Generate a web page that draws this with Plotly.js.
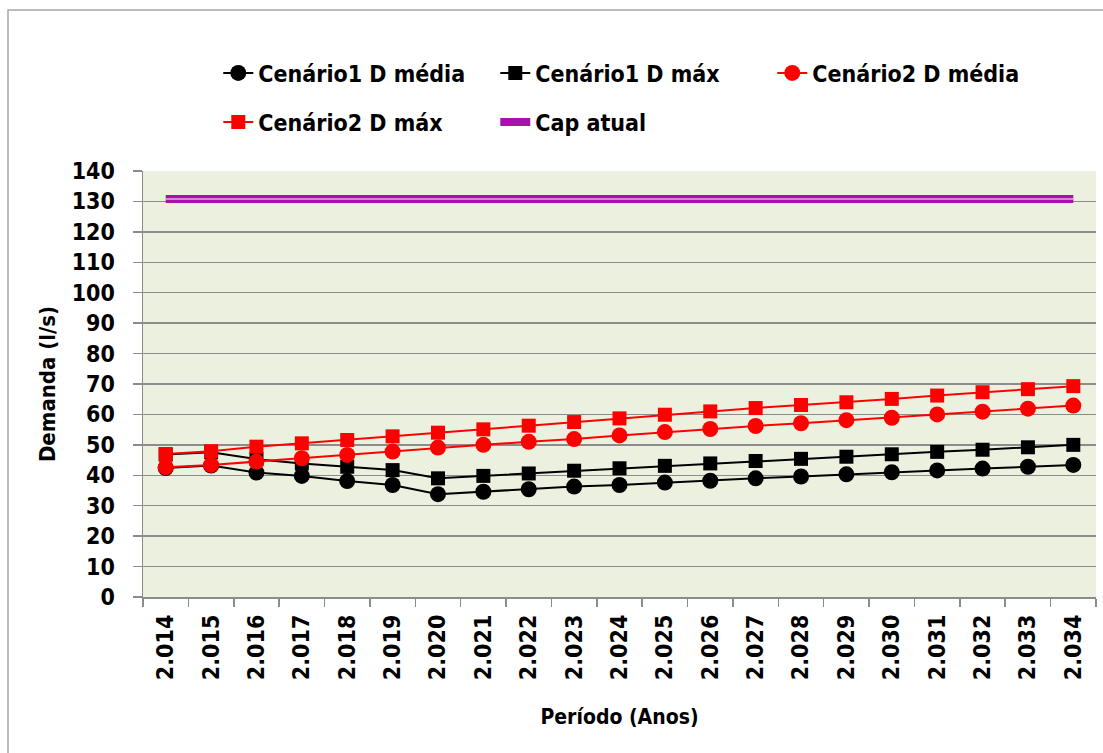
<!DOCTYPE html>
<html>
<head>
<meta charset="utf-8">
<script src="https://cdn.plot.ly/plotly-3.0.1.min.js"></script>
<style>html,body{margin:0;padding:0;background:#fff;}#chart{width:1103px;height:753px;}</style>
</head>
<body>
<div id="chart"></div>
<script>
const years = ['2.014','2.015','2.016','2.017','2.018','2.019','2.020','2.021','2.022','2.023','2.024','2.025','2.026','2.027','2.028','2.029','2.030','2.031','2.032','2.033','2.034'];
const c1Media = [42.4,43.2,40.9,39.8,38.1,36.8,33.8,34.6,35.4,36.3,36.8,37.6,38.2,39.0,39.6,40.3,41.0,41.6,42.2,42.8,43.4];
const c1Max   = [46.8,47.6,45.3,43.9,42.8,41.7,39.0,39.8,40.6,41.5,42.3,43.1,43.9,44.7,45.4,46.1,46.9,47.7,48.4,49.2,50.0];
const c2Media = [42.6,43.4,44.5,45.6,46.7,47.8,49.1,50.0,51.0,51.9,53.1,54.2,55.2,56.2,57.1,58.1,58.9,60.0,60.9,61.9,62.9];
const c2Max   = [47.0,47.9,49.4,50.5,51.6,52.8,54.0,55.1,56.3,57.5,58.7,59.9,61.0,62.1,63.1,64.0,65.1,66.2,67.3,68.3,69.3];
const capAtual = [130.8,130.8,130.8,130.8,130.8,130.8,130.8,130.8,130.8,130.8,130.8,130.8,130.8,130.8,130.8,130.8,130.8,130.8,130.8,130.8,130.8];

const FONT = 'DejaVu Sans Condensed, Liberation Sans Narrow, Arial Narrow, sans-serif';

const traces = [
  {x: years, y: c1Media, name: 'Cenário1 D média', type: 'scatter', mode: 'lines+markers',
   line: {color: '#000000', width: 2}, marker: {symbol: 'circle', size: 16, color: '#000000'}, legend: 'legend'},
  {x: years, y: c1Max, name: 'Cenário1 D máx', type: 'scatter', mode: 'lines+markers',
   line: {color: '#000000', width: 2}, marker: {symbol: 'square', size: 14, color: '#000000'}, legend: 'legend'},
  {x: years, y: c2Media, name: 'Cenário2 D média', type: 'scatter', mode: 'lines+markers',
   line: {color: '#FF0000', width: 2}, marker: {symbol: 'circle', size: 16, color: '#FF0000'}, legend: 'legend'},
  {x: years, y: c2Max, name: 'Cenário2 D máx', type: 'scatter', mode: 'lines+markers',
   line: {color: '#FF0000', width: 2}, marker: {symbol: 'square', size: 14, color: '#FF0000'}, legend: 'legend2'},
  {x: years, y: capAtual, name: 'Cap atual', type: 'scatter', mode: 'lines',
   line: {color: '#A612AA', width: 8}, legend: 'legend2'},
  {x: years, y: capAtual, name: 'Cap atual', type: 'scatter', mode: 'lines',
   line: {color: '#FFFFFF', width: 1}, showlegend: false, hoverinfo: 'skip'}
];

const legendFont = {family: FONT, size: 23, color: '#000000', weight: 'bold'};
const legendCommon = {
  orientation: 'h', xanchor: 'left', yanchor: 'middle',
  bgcolor: 'rgba(0,0,0,0)', borderwidth: 0, entrywidth: 232, entrywidthmode: 'pixels'
};

const layout = {
  width: 1103, height: 753,
  margin: {l: 143, r: 7, t: 171, b: 156, pad: 0},
  paper_bgcolor: '#FFFFFF',
  plot_bgcolor: '#EBF1DE',
  font: {family: FONT, color: '#000000'},
  showlegend: true,
  legend: Object.assign({}, legendCommon, {font: Object.assign({}, legendFont), x: 0.079, y: 1 + (597 - 73 - 426) / 426}),
  legend2: Object.assign({}, legendCommon, {font: Object.assign({}, legendFont), x: 0.079, y: 1 + (597 - 122 - 426) / 426}),
  xaxis: {
    type: 'category',
    range: [-0.5, 20.5],
    tickangle: -90,
    tickson: 'boundaries',
    ticks: 'outside', ticklen: 8, tickcolor: '#8C8C8C', tickwidth: 1.5,
    ticklabelstandoff: 7,
    showgrid: false, zeroline: false,
    showline: true, linecolor: '#8C8C8C', linewidth: 1.5,
    tickfont: {family: FONT, size: 23, color: '#000000', weight: 'bold'},
    title: {text: 'Período (Anos)', font: {family: FONT, size: 21, color: '#000000', weight: 'bold'}, standoff: 30},
    fixedrange: true
  },
  yaxis: {
    range: [0, 140], dtick: 10, tick0: 0,
    ticks: 'outside', ticklen: 9, tickcolor: '#8C8C8C', tickwidth: 1.5,
    ticklabelstandoff: 13,
    showgrid: true, gridcolor: '#8C8C8C', gridwidth: 1.5,
    zeroline: false,
    showline: true, linecolor: '#8C8C8C', linewidth: 1.5,
    tickfont: {family: FONT, size: 23, color: '#000000', weight: 'bold'},
    title: {text: 'Demanda (l/s)', font: {family: FONT, size: 22, color: '#000000', weight: 'bold'}, standoff: 10},
    fixedrange: true
  },
  shapes: [
    {type: 'rect', xref: 'paper', yref: 'paper',
     x0: (8 - 143) / 953, x1: (1115 - 143) / 953, y0: (597 - 770) / 426, y1: (597 - 10) / 426,
     line: {color: '#A6A6A6', width: 1.5}, fillcolor: 'rgba(0,0,0,0)', layer: 'below'}
  ]
};

Plotly.newPlot('chart', traces, layout, {displayModeBar: false, staticPlot: true});
</script>
</body>
</html>
